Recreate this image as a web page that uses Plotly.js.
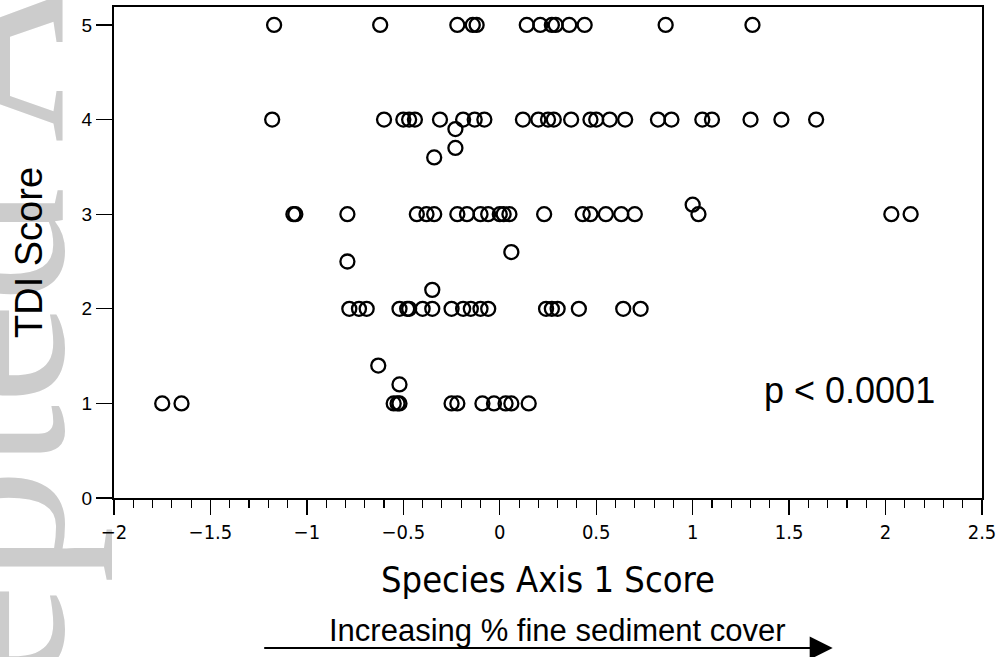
<!DOCTYPE html>
<html>
<head>
<meta charset="utf-8">
<script src="https://cdn.plot.ly/plotly-3.0.1.min.js"></script>
<style>
html,body{margin:0;padding:0;background:#ffffff;}
#chart{width:999px;height:657px;}
</style>
</head>
<body>
<div id="chart"></div>
<script>
// Species axis 1 scores grouped by TDI score
const score5 = [-1.17, -0.62, -0.22, -0.14, -0.12, 0.14, 0.21, 0.27, 0.29, 0.36, 0.44, 0.86, 1.31];
const score4 = [-1.18, -0.60, -0.50, -0.47, -0.44, -0.31, -0.19, -0.13, -0.08, 0.12, 0.20, 0.25, 0.28, 0.37, 0.47, 0.50, 0.57, 0.65, 0.82, 0.89, 1.05, 1.10, 1.30, 1.46, 1.64];
const score3 = [-1.07, -1.06, -0.79, -0.43, -0.38, -0.34, -0.22, -0.17, -0.10, -0.06, 0.00, 0.02, 0.05, 0.23, 0.43, 0.47, 0.55, 0.63, 0.70, 1.03, 2.03, 2.13];
const score2 = [-0.78, -0.73, -0.69, -0.52, -0.48, -0.47, -0.40, -0.35, -0.25, -0.19, -0.15, -0.10, -0.06, 0.24, 0.27, 0.30, 0.41, 0.64, 0.73];
const score1 = [-1.75, -1.65, -0.55, -0.53, -0.52, -0.25, -0.22, -0.09, -0.03, 0.03, 0.06, 0.15];
// intermediate TDI scores
const otherX = [-0.23, -0.23, -0.34, 1.00, 0.06, -0.79, -0.35, -0.63, -0.52];
const otherY = [3.9, 3.7, 3.6, 3.1, 2.6, 2.5, 2.2, 1.4, 1.2];

const xTickVals = [-2, -1.5, -1, -0.5, 0, 0.5, 1, 1.5, 2, 2.5];
const xTickText = ['\u22122', '\u22121.5', '\u22121', '\u22120.5', '0', '0.5', '1', '1.5', '2', '2.5'];
const yTickVals = [0, 1, 2, 3, 4, 5];

const xs = [].concat(score5, score4, score3, score2, score1, otherX);
const ys = [].concat(
  score5.map(() => 5), score4.map(() => 4), score3.map(() => 3),
  score2.map(() => 2), score1.map(() => 1), otherY);

const narrow = '"DejaVu Sans Condensed", "Liberation Sans Narrow", "Arial Narrow", sans-serif';
const sans = '"Liberation Sans", Arial, sans-serif';

const trace = {
  x: xs, y: ys, type: 'scatter', mode: 'markers',
  marker: {symbol: 'circle-open', size: 14, color: '#000000', line: {width: 2.3, color: '#000000'}},
  hoverinfo: 'x+y', showlegend: false
};

const layout = {
  width: 999, height: 657,
  margin: {l: 114, r: 17, t: 7, b: 159, autoexpand: false},
  paper_bgcolor: '#ffffff', plot_bgcolor: '#ffffff',
  showlegend: false,
  xaxis: {
    range: [-2, 2.5], autorange: false,
    tickmode: 'array', tickvals: xTickVals, ticktext: xTickText,
    ticks: 'outside', ticklen: 15, tickwidth: 1.3, tickcolor: '#000',
    minor: {dtick: 0.1, tick0: 0, ticks: 'outside', ticklen: 8, tickwidth: 1.1, tickcolor: '#000', showgrid: false},
    showline: true, linecolor: '#000', linewidth: 2.2, mirror: true,
    showgrid: false, zeroline: false,
    tickfont: {family: narrow, size: 20, color: '#000'},
    title: {text: 'Species Axis 1 Score', font: {family: narrow, size: 36, color: '#000'}, standoff: 24}
  },
  yaxis: {
    range: [0, 5.19], autorange: false,
    tickmode: 'array', tickvals: yTickVals,
    ticks: 'outside', ticklen: 16, tickwidth: 1.3, tickcolor: '#000',
    showline: true, linecolor: '#000', linewidth: 2.2, mirror: true,
    showgrid: false, zeroline: false,
    tickfont: {family: sans, size: 19, color: '#000'},
    title: {text: 'TDI Score', font: {family: sans, size: 38, color: '#000'}, standoff: 27}
  },
  shapes: [
    {
      type: 'rect', xref: 'paper', yref: 'paper', layer: 'below',
      x0: -0.277, x1: -0.077, y0: -0.5, y1: 1.388,
      line: {width: 0}, fillcolor: 'rgba(0,0,0,0)',
      label: {
        text: 'Accepted Article', textangle: -90, textposition: 'middle center',
        font: {family: '"Liberation Serif", "Times New Roman", serif', size: 230, color: '#cccccc'}
      }
    }
  ],
  annotations: [
    {
      text: 'p &lt; 0.0001', xref: 'x', yref: 'y', x: 1.815, y: 1.14,
      xanchor: 'center', yanchor: 'middle',
      showarrow: false, font: {family: sans, size: 36, color: '#000'}
    },
    {
      text: 'Increasing % fine sediment cover', xref: 'paper', yref: 'paper',
      x: 0.511, y: -0.269, xanchor: 'center', yanchor: 'middle', showarrow: false,
      font: {family: sans, size: 31, color: '#000'}
    },
    {
      text: '', xref: 'paper', yref: 'paper', x: 0.828, y: -0.3055,
      axref: 'pixel', ayref: 'pixel', ax: -570, ay: 0,
      showarrow: true, arrowhead: 2, arrowsize: 2.3, arrowwidth: 2, arrowcolor: '#000'
    }
  ]
};

Plotly.newPlot('chart', [trace], layout, {displayModeBar: false, staticPlot: true});
</script>
</body>
</html>
